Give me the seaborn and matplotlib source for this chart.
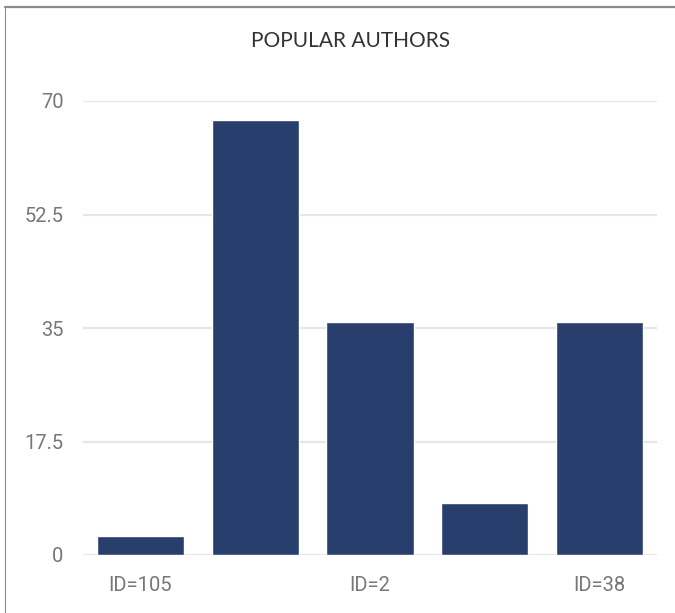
import matplotlib
matplotlib.use("Agg")
import matplotlib.pyplot as plt
from matplotlib.lines import Line2D
import pandas as pd
import seaborn as sns

# Chart data
author_slots = [0, 1, 2, 3, 4]
author_labels = ["ID=105", "", "ID=2", "", "ID=38"]
post_counts = [3, 67, 36, 8, 36]
y_ticks = [0, 17.5, 35, 52.5, 70]
y_tick_labels = ["0", "17.5", "35", "52.5", "70"]

df = pd.DataFrame({"slot": author_slots, "count": post_counts})

sns.set_style("white")
plt.rcParams["font.family"] = ["Lato", "DejaVu Sans"]

fig = plt.figure(figsize=(6.75, 6.13), dpi=100)
ax = fig.add_axes([83 / 675, 58 / 613, 574 / 675, 454 / 613])

sns.barplot(data=df, x="slot", y="count", color="#283f6e", width=0.758,
            saturation=1, ax=ax, zorder=3)

ax.set_xlim(-0.5, 4.5)
ax.set_ylim(0, 70)
ax.set_yticks(y_ticks)
ax.set_yticklabels(y_tick_labels, color="#777777", fontsize=14.5,
                   family=["Roboto", "DejaVu Sans"])
ax.set_xticks(author_slots)
ax.set_xticklabels(author_labels, color="#777777", fontsize=14.5,
                   family=["Roboto", "DejaVu Sans"])
ax.tick_params(axis="y", length=0, pad=14)
ax.tick_params(axis="x", length=0, pad=15)
ax.set_xlabel("")
ax.set_ylabel("")

ax.yaxis.grid(True, color="#e6e6e6", linewidth=1.6, zorder=0)
ax.xaxis.grid(False)
for side in ax.spines.values():
    side.set_visible(False)

fig.text(351 / 675, 1 - 41 / 613, "POPULAR AUTHORS", ha="center", va="center",
         fontsize=15, color="#333333")

# card border (top and left edges)
fig.add_artist(Line2D([5 / 675, 1], [1 - 7 / 613, 1 - 7 / 613],
                      transform=fig.transFigure, color="#8c8c8c", linewidth=1.6))
fig.add_artist(Line2D([5 / 675, 5 / 675], [0, 1 - 7 / 613],
                      transform=fig.transFigure, color="#8c8c8c", linewidth=0.8))

fig.savefig("out.png", dpi=100)
